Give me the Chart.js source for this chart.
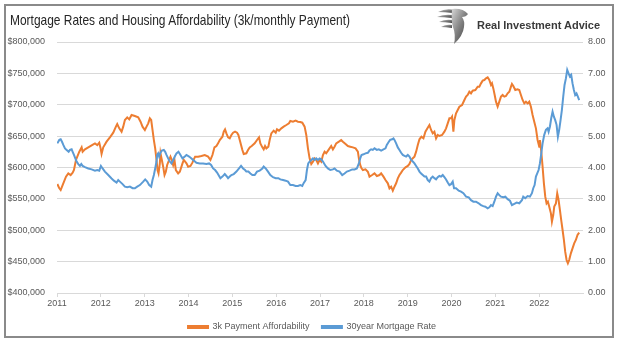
<!DOCTYPE html>
<html><head><meta charset="utf-8">
<script src="https://cdn.jsdelivr.net/npm/chart.js"></script>
<style>
html,body{margin:0;padding:0;background:#fff;}
#wrap{position:relative;width:624px;height:350px;overflow:hidden;background:#fff;font-family:"Liberation Sans",Arial,sans-serif;}
#frame{position:absolute;left:4px;top:4px;width:606px;height:330px;border:2px solid #8a8a8a;}
#title{position:absolute;left:10px;top:12.7px;font-size:14.5px;line-height:1;color:#262626;white-space:nowrap;transform-origin:0 0;}
#brand{position:absolute;left:477px;top:19.5px;font-size:11px;line-height:1;font-weight:bold;color:#3a3a3a;white-space:nowrap;}
#logo{position:absolute;left:436px;top:7px;}
#c{position:absolute;left:0;top:0;}
</style></head>
<body>
<div id="wrap">
<canvas id="c" width="624" height="350"></canvas>
<div id="frame"></div>
<div id="title">Mortgage Rates and Housing Affordability (3k/monthly Payment)</div>
<svg id="logo" width="34" height="38" viewBox="0 0 34 38">
<defs><linearGradient id="g" x1="0" y1="0" x2="1" y2="1"><stop offset="0" stop-color="#d6d6d6"/><stop offset="0.5" stop-color="#808080"/><stop offset="1" stop-color="#3a3a3a"/></linearGradient></defs>
<path d="M2 5 Q10 1 18 3 L17 6 Q9 5 2 5Z" fill="url(#g)"/>
<path d="M1 10 Q8 7 16 8 L16 11 Q8 10 1 10Z" fill="url(#g)"/>
<path d="M3 15 Q9 12 16 13 L16 16 Q9 15 3 15Z" fill="url(#g)"/>
<path d="M5 20 Q10 17 16 18 L16 21 Q10 20 5 20Z" fill="url(#g)"/>
<path d="M16 2 Q27 1 32 7 Q30 10 26 10 Q29 14 28 20 Q27 29 18 37 Q20 28 17 20 Q15 14 16 2Z" fill="url(#g)"/>
</svg>
<div id="brand">Real Investment Advice</div>
</div>
<script>
const seriesNames = ['3k Payment Affordability', '30year Mortgage Rate'];
const yearTicks = [2011,2012,2013,2014,2015,2016,2017,2018,2019,2020,2021,2022];

const affordYears = [2011.008,2011.053,2011.084,2011.144,2011.205,2011.258,2011.311,2011.357,2011.387,2011.433,
2011.463,2011.509,2011.562,2011.585,2011.638,2011.714,2011.790,2011.866,2011.919,2011.964,
2011.995,2012.017,2012.055,2012.131,2012.207,2012.283,2012.344,2012.374,2012.420,2012.473,
2012.511,2012.549,2012.602,2012.648,2012.701,2012.777,2012.853,2012.906,2012.951,2013.005,
2013.043,2013.081,2013.118,2013.149,2013.179,2013.210,2013.240,2013.270,2013.293,2013.316,
2013.346,2013.361,2013.392,2013.422,2013.453,2013.483,2013.513,2013.559,2013.589,2013.620,
2013.650,2013.680,2013.711,2013.764,2013.802,2013.863,2013.893,2013.954,2013.992,2014.045,
2014.090,2014.121,2014.151,2014.219,2014.295,2014.371,2014.447,2014.500,2014.546,2014.592,
2014.637,2014.675,2014.713,2014.774,2014.804,2014.834,2014.865,2014.903,2014.941,2014.979,
2015.017,2015.062,2015.108,2015.138,2015.169,2015.199,2015.229,2015.260,2015.320,2015.358,
2015.396,2015.442,2015.510,2015.563,2015.609,2015.639,2015.685,2015.715,2015.746,2015.776,
2015.822,2015.852,2015.890,2015.943,2015.989,2016.019,2016.065,2016.118,2016.171,2016.232,
2016.292,2016.323,2016.383,2016.444,2016.497,2016.550,
2016.596,2016.649,2016.687,2016.725,2016.763,2016.801,2016.839,2016.877,2016.915,2016.953,
2016.991,2017.029,2017.067,2017.104,2017.142,2017.203,2017.256,2017.294,2017.332,2017.370,
2017.431,2017.484,2017.522,2017.583,2017.636,2017.689,2017.750,2017.811,2017.864,2017.887,
2017.917,2017.947,2017.978,2018.038,2018.092,2018.129,2018.190,2018.243,2018.297,2018.357,
2018.395,2018.448,2018.494,2018.547,2018.585,2018.623,2018.661,2018.699,2018.737,2018.775,
2018.813,2018.851,2018.889,2018.950,2019.003,2019.041,2019.079,2019.117,2019.155,2019.193,
2019.231,2019.269,2019.314,2019.360,2019.405,2019.451,2019.496,2019.534,2019.572,2019.610,
2019.648,2019.686,2019.724,2019.785,2019.838,2019.876,2019.914,2019.952,2019.990,2020.013,
2020.043,2020.066,2020.104,2020.142,2020.180,2020.241,2020.294,2020.332,2020.369,2020.407,
2020.445,2020.483,2020.544,2020.597,2020.635,2020.673,2020.711,2020.749,2020.787,2020.825,
2020.863,2020.901,2020.924,2020.954,2020.985,2021.015,2021.053,2021.091,2021.129,2021.167,
2021.205,2021.243,2021.281,2021.319,2021.357,2021.379,2021.410,2021.455,2021.508,2021.546,
2021.584,2021.622,2021.660,2021.698,2021.736,2021.774,2021.812,2021.850,2021.888,2021.926,
2021.964,2022.002,2022.017,2022.048,2022.078,2022.108,2022.139,2022.169,2022.199,2022.230,
2022.268,2022.291,2022.321,2022.344,2022.382,2022.412,2022.443,2022.473,2022.503,2022.534,
2022.564,2022.594,2022.625,2022.655,2022.685,2022.723,2022.761,2022.799,2022.837,2022.875,
2022.913];

const affordValues = [573700,566800,564100,574800,585400,590700,588000,591800,596000,612000,
617300,625200,632100,625200,628900,632100,635300,638500,635800,639600,
630500,621500,632100,641200,648100,655500,665100,669300,662400,657100,
665100,675700,679900,676700,683700,682100,679900,673000,665100,659800,
665100,670400,678300,675700,659800,643800,630500,612000,596000,590700,
606600,622600,612000,601300,588000,593300,604000,612000,617300,612000,
604000,612000,596000,590700,593300,606600,612000,606600,601300,602400,
607700,613000,617300,617300,618300,619900,617300,612000,619900,632100,
634200,638500,643800,649100,657100,660800,654400,648100,646500,651800,
655500,657100,655500,651800,643800,635800,627900,621500,622600,627900,
632100,634200,638500,643800,648100,638500,632100,628900,634200,630500,
633200,643800,654400,658700,655500,660800,658700,662400,665100,667700,
670400,674100,673000,674600,673000,672500,
671400,665100,651800,630500,614600,605600,609300,614600,612000,606600,
612000,609300,619900,625200,622600,628900,634200,628900,633200,638500,
641200,643800,641200,637400,634200,633200,632100,630500,625200,614600,
604000,598700,596000,597100,593300,585400,588000,590700,586400,588000,
590700,585400,580000,574800,566800,569400,563100,569400,574800,582700,
588000,591800,596000,600300,602400,605600,612000,614600,617300,625200,
635800,644900,649100,646500,657100,662400,667700,659800,654400,657100,
646500,651800,650200,651800,657100,662400,670400,678300,678300,681000,
657100,675700,686300,691600,696900,699600,707600,712900,715500,720800,
718200,722400,723500,728800,728800,734100,738400,739400,742100,743700,
739400,731500,734100,726100,715500,704900,696900,704900,712900,715500,
712900,713900,718200,720800,728800,733100,729900,723500,724600,723500,
715500,707600,702200,704900,702200,704900,696900,683700,673000,662400,
643800,633200,643800,625200,601300,574800,553500,542900,545500,537600,
527000,513700,524300,537600,542900,558800,548200,532300,516300,500400,
484500,465900,452600,447300,452600,463200,471200,479100,484500,492400,
496100];

const rateYears = [2011.008,2011.053,2011.084,2011.114,2011.144,2011.182,2011.220,2011.266,2011.296,2011.334,
2011.357,2011.387,2011.418,2011.448,2011.486,2011.524,2011.554,2011.585,2011.638,2011.714,
2011.790,2011.866,2011.919,2011.964,2012.002,2012.040,2012.093,2012.169,2012.245,2012.298,
2012.359,2012.397,2012.435,2012.496,2012.549,2012.602,2012.663,2012.724,2012.777,2012.830,
2012.891,2012.967,2013.012,2013.058,2013.103,2013.149,2013.179,2013.210,2013.240,2013.270,
2013.286,2013.308,2013.331,2013.361,2013.392,2013.437,2013.468,2013.498,2013.536,2013.574,
2013.612,2013.650,2013.688,2013.726,2013.771,2013.817,2013.863,2013.916,2013.954,2014.014,
2014.068,2014.121,2014.181,2014.257,2014.333,2014.409,2014.470,2014.516,2014.561,2014.607,
2014.652,2014.698,2014.728,2014.774,2014.827,2014.865,2014.903,2014.941,2014.979,2015.032,
2015.093,2015.153,2015.199,2015.245,2015.290,2015.320,2015.366,2015.412,2015.457,2015.510,
2015.563,2015.624,2015.685,2015.715,2015.761,2015.814,2015.867,2015.928,2015.989,2016.049,
2016.095,2016.156,2016.216,2016.270,2016.323,2016.383,2016.444,2016.497,2016.550,
2016.596,2016.626,2016.672,2016.702,2016.732,2016.763,2016.801,2016.839,2016.877,2016.915,
2016.953,2016.991,2017.029,2017.067,2017.127,2017.180,2017.234,2017.294,2017.332,2017.385,
2017.446,2017.507,2017.560,2017.613,2017.674,2017.735,2017.788,2017.841,2017.887,2017.917,
2017.947,2017.993,2018.038,2018.092,2018.129,2018.167,2018.205,2018.243,2018.297,2018.342,
2018.395,2018.448,2018.494,2018.524,2018.570,2018.600,2018.646,2018.676,2018.699,2018.737,
2018.775,2018.813,2018.851,2018.889,2018.927,2018.965,2019.003,2019.041,2019.079,2019.117,
2019.155,2019.193,2019.231,2019.269,2019.307,2019.345,2019.383,2019.421,2019.458,2019.496,
2019.534,2019.572,2019.610,2019.648,2019.686,2019.724,2019.762,2019.800,2019.838,2019.876,
2019.914,2019.952,2019.990,2020.028,2020.058,2020.104,2020.165,2020.218,2020.271,2020.332,
2020.393,2020.445,2020.499,2020.559,2020.620,2020.673,2020.726,2020.772,2020.825,2020.863,
2020.901,2020.939,2020.977,2021.015,2021.053,2021.091,2021.129,2021.182,2021.228,2021.281,
2021.334,2021.379,2021.433,2021.486,2021.546,2021.607,2021.637,2021.683,2021.736,2021.789,
2021.835,2021.865,2021.896,2021.926,2021.956,2021.987,2022.017,2022.048,2022.078,2022.116,
2022.154,2022.192,2022.215,2022.245,2022.275,2022.306,2022.336,2022.366,2022.397,2022.427,
2022.457,2022.488,2022.518,2022.549,2022.579,2022.610,2022.640,2022.670,2022.701,2022.731,
2022.761,2022.792,2022.822,2022.852,2022.883,2022.913];

const rateValues = [4.77,4.88,4.90,4.82,4.72,4.61,4.56,4.50,4.56,4.58,
4.50,4.40,4.29,4.19,4.11,4.05,4.11,4.05,4.01,3.97,
3.94,3.90,3.92,3.90,4.05,3.97,3.87,3.76,3.65,3.58,
3.52,3.60,3.55,3.47,3.39,3.37,3.39,3.34,3.34,3.39,
3.44,3.55,3.62,3.55,3.44,3.39,3.60,3.76,3.97,4.19,
4.40,4.45,4.35,4.47,4.54,4.56,4.50,4.40,4.29,4.19,
4.13,4.24,4.35,4.45,4.50,4.40,4.29,4.35,4.40,4.35,
4.29,4.22,4.15,4.13,4.13,4.11,4.13,4.08,3.97,3.92,
3.84,3.73,3.66,3.71,3.79,3.73,3.66,3.71,3.76,3.79,
3.87,3.97,4.05,3.97,3.92,3.87,3.87,3.81,3.76,3.76,
3.87,3.90,3.97,4.03,3.97,3.87,3.76,3.69,3.66,3.66,
3.62,3.60,3.58,3.55,3.44,3.44,3.41,3.41,3.44,
3.41,3.50,3.60,3.92,4.13,4.19,4.24,4.29,4.24,4.29,
4.24,4.29,4.26,4.19,4.05,3.97,3.92,3.94,3.97,3.90,
3.87,3.76,3.81,3.87,3.90,3.94,3.94,3.97,4.13,4.29,
4.40,4.42,4.45,4.47,4.54,4.58,4.56,4.61,4.56,4.58,
4.54,4.58,4.61,4.72,4.82,4.88,4.90,4.93,4.88,4.77,
4.64,4.56,4.47,4.40,4.37,4.35,4.40,4.35,4.24,4.19,
4.13,4.05,3.97,3.87,3.81,3.76,3.71,3.71,3.60,3.55,
3.66,3.71,3.66,3.62,3.69,3.73,3.71,3.76,3.69,3.62,
3.52,3.44,3.47,3.55,3.34,3.34,3.26,3.23,3.18,3.07,
3.05,2.96,2.91,2.91,2.86,2.80,2.77,2.75,2.70,2.73,
2.80,2.77,2.91,3.07,3.18,3.12,3.07,3.05,3.07,2.99,
2.94,2.80,2.84,2.88,2.86,2.96,3.07,3.02,3.09,3.07,
3.18,3.34,3.44,3.71,3.81,3.92,4.13,4.45,4.77,5.04,
5.20,5.25,5.14,5.30,5.57,5.78,5.62,5.51,5.36,4.98,
5.20,5.51,5.83,6.26,6.63,6.84,7.11,7.00,6.90,6.95,
6.68,6.47,6.31,6.36,6.26,6.15];

// Title: narrow face emulated by fitting width
const titleEl = document.getElementById('title');
const tw = titleEl.getBoundingClientRect().width;
titleEl.style.transform = 'scaleX(' + (340 / tw) + ')';

const tickFont = {family: '"Liberation Sans", Arial, sans-serif', size: 9};
const afford = affordYears.map((x, i) => ({x: x, y: affordValues[i]}));
const rate = rateYears.map((x, i) => ({x: x, y: rateValues[i]}));

new Chart(document.getElementById('c'), {
  type: 'line',
  data: {
    datasets: [
      {label: seriesNames[0], data: afford, yAxisID: 'y', borderColor: '#ED7D31', backgroundColor: '#ED7D31',
       borderWidth: 2, pointRadius: 0, pointHoverRadius: 0, tension: 0, order: 1},
      {label: seriesNames[1], data: rate, yAxisID: 'y1', borderColor: '#5B9BD5', backgroundColor: '#5B9BD5',
       borderWidth: 2, pointRadius: 0, pointHoverRadius: 0, tension: 0, order: 0}
    ]
  },
  options: {
    responsive: false, animation: false, devicePixelRatio: 1,
    layout: {padding: {left: 0, right: 0, top: 42, bottom: 8.5}},
    plugins: {
      title: {display: false},
      tooltip: {enabled: false},
      legend: {
        position: 'bottom',
        labels: {boxWidth: 20, boxHeight: 2, padding: 12.5, color: '#595959', font: tickFont,
                 sort: (a, b) => a.datasetIndex - b.datasetIndex}
      }
    },
    scales: {
      x: {
        type: 'linear', min: 2011, max: 2023,
        afterBuildTicks: s => { s.ticks = yearTicks.map(v => ({value: v})); },
        ticks: {stepSize: 1, autoSkip: false, maxRotation: 0, padding: 1, color: '#595959', font: tickFont,
                callback: v => String(v)},
        grid: {drawOnChartArea: false, drawTicks: true, tickLength: 4, color: '#d9d9d9'},
        border: {display: true, color: '#d9d9d9'},
        afterFit: s => { s.height = 17; }
      },
      y: {
        position: 'left', min: 400000, max: 800000,
        ticks: {stepSize: 50000, padding: 12, color: '#595959', font: tickFont,
                callback: v => '$' + v.toLocaleString('en-US')},
        grid: {color: '#d9d9d9', drawTicks: false},
        border: {display: false},
        afterFit: s => { s.width = 57; }
      },
      y1: {
        position: 'right', min: 0, max: 8,
        ticks: {stepSize: 1, padding: 5, color: '#595959', font: tickFont, callback: v => v.toFixed(2)},
        grid: {drawOnChartArea: false, drawTicks: false},
        border: {display: false},
        afterFit: s => { s.width = 41; }
      }
    }
  }
});
</script>
</body></html>
